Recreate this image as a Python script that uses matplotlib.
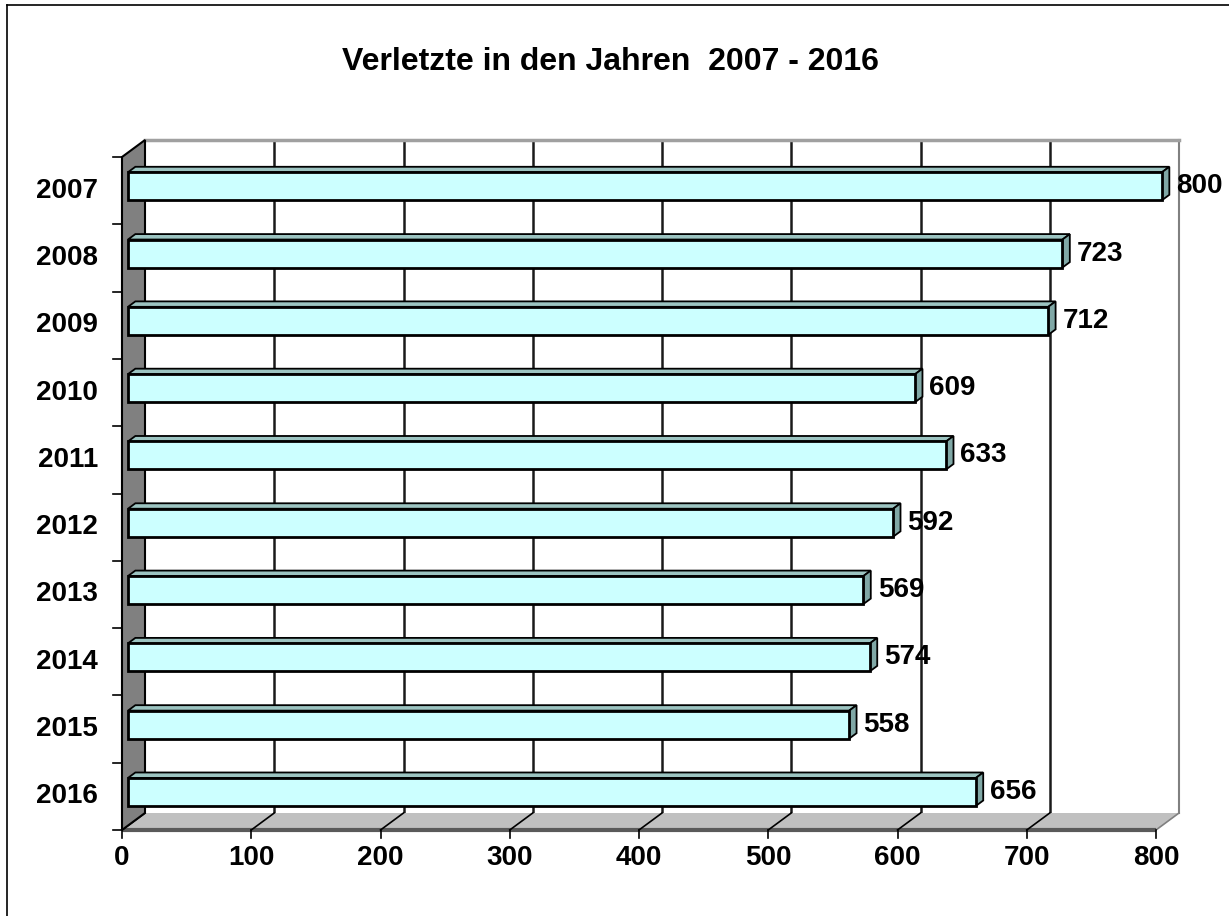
import numpy as np
import matplotlib.pyplot as plt
from matplotlib.patches import Polygon
from matplotlib.lines import Line2D

# -------------------------
# DATA
# -------------------------
jahre = ["2007", "2008", "2009", "2010", "2011", "2012", "2013", "2014", "2015", "2016"]
verletzte = [800, 723, 712, 609, 633, 592, 569, 574, 558, 656]
x_ticks = [0, 100, 200, 300, 400, 500, 600, 700, 800]
titel = "Verletzte in den Jahren  2007 - 2016"

plt.rcParams['font.family'] = ['Liberation Sans', 'DejaVu Sans']

W, H = 1229, 916
fig = plt.figure(figsize=(W / 100, H / 100), dpi=100)
ax = fig.add_axes([0, 0, 1, 1])
ax.set_axis_off()

# pixel scale of the front plane
sx = (1156 - 122) / 800.0
sy = (830 - 157) / 10.0
ax.set_xlim(-122 / sx, (W - 122) / sx)
ax.set_ylim((830 - H) / sy, 830 / sy)

n = len(jahre)
xmax = x_ticks[-1]
DX = 23 / sx        # depth of the 3d box
DY = 17 / sy
f1, f2 = 0.26, 0.58  # bar front / back depth
hh = 14 / sy        # half bar height

# -------------------------
# BACK WALL + GRID
# -------------------------
ax.add_patch(Polygon([(DX, DY), (xmax + DX, DY), (xmax + DX, n + DY), (DX, n + DY)],
                     closed=True, facecolor="white", edgecolor="none", zorder=1))
for t in x_ticks[1:-1]:
    ax.plot([t + DX, t + DX], [DY, n + DY], color="#1a1a1a", lw=1.8, zorder=2)
ax.plot([xmax + DX, xmax + DX], [DY, n + DY], color="#808080", lw=1.5, zorder=2)
ax.plot([DX, xmax + DX], [n + DY, n + DY], color="#a0a0a0", lw=2.5, zorder=2)

# -------------------------
# FLOOR
# -------------------------
ax.add_patch(Polygon([(0, 0), (xmax, 0), (xmax + DX, DY), (DX, DY)],
                     closed=True, facecolor="#c0c0c0", edgecolor="none", zorder=3))
ax.plot([0, xmax], [0, 0], color="#5a5a5a", lw=3, zorder=4, solid_capstyle="butt")
for t in x_ticks[:-1]:
    ax.plot([t, t + DX], [0, DY], color="black", lw=1.2, zorder=4)
ax.plot([xmax, xmax + DX], [0, DY], color="#808080", lw=1.2, zorder=4)

# -------------------------
# LEFT WALL
# -------------------------
ax.add_patch(Polygon([(0, 0), (0, n), (DX, n + DY), (DX, DY)],
                     closed=True, facecolor="#808080", edgecolor="black", lw=1.5, zorder=5))

# ticks
for k in range(n + 1):
    ax.plot([-9 / sx, 0], [k, k], color="black", lw=1.2, zorder=5)
for t in x_ticks:
    ax.plot([t, t], [0, -8 / sy], color="black", lw=1.2, zorder=5)
    ax.text(t, -28 / sy, str(t), ha="center", va="center", fontsize=20,
            fontweight="bold", zorder=10)

# -------------------------
# BARS
# -------------------------
for i, (jahr, v) in enumerate(zip(jahre, verletzte)):
    yc = n - i - 0.5
    x0f, x1f = f1 * DX, v + f1 * DX
    x0b, x1b = f2 * DX, v + f2 * DX
    ybf, ytf = yc - hh + f1 * DY, yc + hh + f1 * DY
    ybb, ytb = yc - hh + f2 * DY, yc + hh + f2 * DY
    # top face
    ax.add_patch(Polygon([(x0f, ytf), (x1f, ytf), (x1b, ytb), (x0b, ytb)], closed=True,
                         facecolor="#9cc4c1", edgecolor="black", lw=1.3, zorder=6))
    # side face
    ax.add_patch(Polygon([(x1f, ybf), (x1f, ytf), (x1b, ytb), (x1b, ybb)], closed=True,
                         facecolor="#80a8a6", edgecolor="black", lw=1.3, zorder=6))
    # front face
    ax.add_patch(Polygon([(x0f, ybf), (x1f, ybf), (x1f, ytf), (x0f, ytf)], closed=True,
                         facecolor="#ccffff", edgecolor="black", lw=2, zorder=7))
    ax.text(x1b + 7 / sx, yc + f1 * DY, str(v), ha="left", va="center", fontsize=20,
            fontweight="bold", zorder=10)
    ax.text(-24 / sx, yc, jahr, ha="right", va="center", fontsize=20,
            fontweight="bold", zorder=10)

# -------------------------
# TITLE + BORDER
# -------------------------
fig.text(610 / W, 1 - 62 / H, titel, ha="center", va="center", fontsize=23, fontweight="bold")
fig.add_artist(Line2D([7 / W, 7 / W], [0, 1 - 5 / H], color="black", lw=1.2))
fig.add_artist(Line2D([7 / W, 1], [1 - 5 / H, 1 - 5 / H], color="black", lw=1.2))

fig.savefig("out.png", dpi=100)
